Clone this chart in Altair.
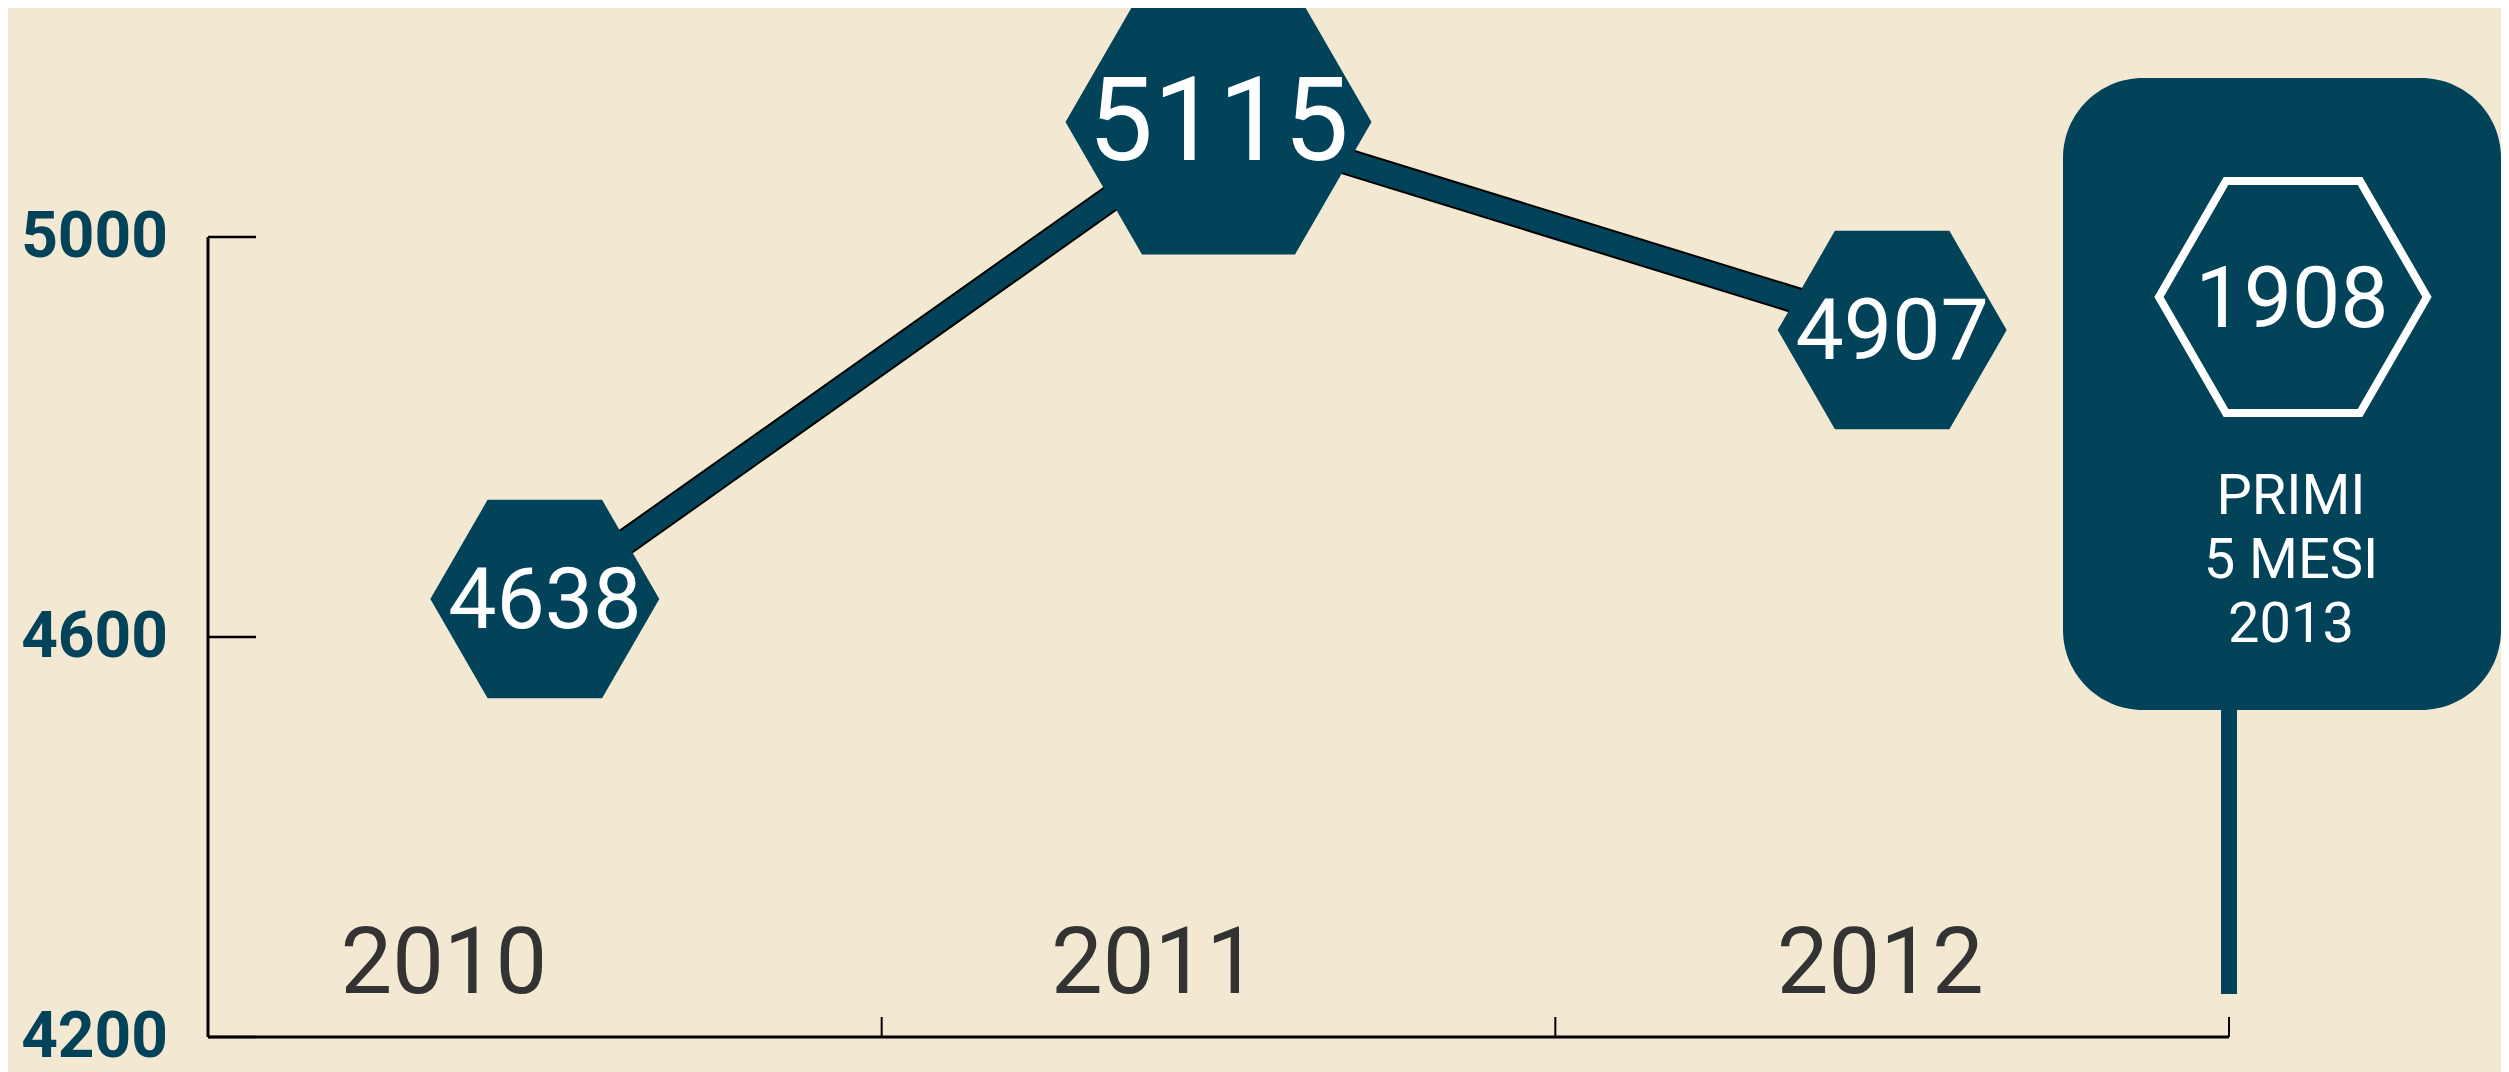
import altair as alt
import pandas as pd

# ---- data ----
years = ["2010", "2011", "2012"]
values = [4638, 5115, 4907]
y_ticks = [4200, 4600, 5000]
partial_year = "2013"
partial_value = 1908
partial_caption = ["PRIMI", "5 MESI", "2013"]

# ---- styles ----
TEAL = "#02435a"
BG = "#f3e9d3"
DARK = "#333333"
FONT = "Roboto"
HEX = "M-1,0L-0.5,-0.866L0.5,-0.866L1,0L0.5,0.866L-0.5,0.866Z"
W, H = 2021, 1029
year_dx = [-101, -64, -12]

n = len(years)
df = pd.DataFrame({"year": years, "value": values, "slot": [i + 0.5 for i in range(n)]})
df_ticks = pd.DataFrame({"v": y_ticks})
df_yaxis = pd.DataFrame({"lo": [min(y_ticks)], "hi": [max(y_ticks)]})
df_xaxis = pd.DataFrame({"x0": [0], "x1": [n], "y": [min(y_ticks)]})
df_xticks = pd.DataFrame({"b": [i + 1 for i in range(n)]})
df_part = pd.DataFrame({"year": [partial_year], "value": [partial_value],
                        "slot": [n], "caption": ["\n".join(partial_caption)]})

xs = alt.Scale(domain=[0, n], nice=False, zero=False)
ys = alt.Scale(domain=[4200, 5229], nice=False, zero=False)

# axes drawn as rules + text
y_line = alt.Chart(df_yaxis).mark_rule(color="black", strokeWidth=3).encode(
    x=alt.value(0), y=alt.Y("lo:Q", scale=ys, axis=None), y2="hi:Q")

y_tick = alt.Chart(df_ticks).mark_rule(color="black", strokeWidth=2.5).encode(
    x=alt.value(0), x2=alt.value(48), y=alt.Y("v:Q", scale=ys, axis=None))

y_lab = alt.Chart(df_ticks).mark_text(
    font=FONT, fontSize=64, fontWeight="bold", color=TEAL, align="right",
    baseline="middle", dy=1).encode(
    x=alt.value(-40), y=alt.Y("v:Q", scale=ys, axis=None), text=alt.Text("v:Q", format="d"))

x_line = alt.Chart(df_xaxis).mark_rule(color="black", strokeWidth=3).encode(
    x=alt.X("x0:Q", scale=xs, axis=None), x2="x1:Q", y=alt.Y("y:Q", scale=ys, axis=None))

x_tick = alt.Chart(df_xticks).mark_rule(color="black", strokeWidth=2).encode(
    x=alt.X("b:Q", scale=xs, axis=None), y=alt.value(H), y2=alt.value(H - 20))

# partial-year panel
stem = alt.Chart(df_part).mark_rule(color=TEAL, strokeWidth=16).encode(
    x=alt.X("slot:Q", scale=xs, axis=None), y=alt.value(986), y2=alt.value(700))

panel = alt.Chart(df_part).mark_rect(color=TEAL, cornerRadius=80).encode(
    x=alt.value(1855), x2=alt.value(2293), y=alt.value(70), y2=alt.value(702))

panel_hex = alt.Chart(df_part).mark_point(
    shape=HEX, filled=False, stroke="white", strokeWidth=8, opacity=1).encode(
    x=alt.value(2085), y=alt.value(289), size=alt.value(268 * 268))

panel_val = alt.Chart(df_part).mark_text(
    font=FONT, fontSize=86, color="white", baseline="middle", align="center").encode(
    x=alt.value(2084), y=alt.value(293), text="value:Q")

panel_cap = alt.Chart(df_part).mark_text(
    font=FONT, fontSize=56, color="white", baseline="middle", align="center",
    lineBreak="\n", lineHeight=64).encode(
    x=alt.value(2083), y=alt.value(489), text="caption:N")

# series line with a thin dark edge
line_edge = alt.Chart(df).mark_line(color="black", strokeWidth=27, strokeCap="butt").encode(
    x=alt.X("slot:Q", scale=xs, axis=None), y=alt.Y("value:Q", scale=ys, axis=None))
line_fill = alt.Chart(df).mark_line(color=TEAL, strokeWidth=23, strokeCap="butt").encode(
    x=alt.X("slot:Q", scale=xs, axis=None), y=alt.Y("value:Q", scale=ys, axis=None))

hexes = alt.Chart(df).mark_point(shape=HEX, filled=True, color=TEAL, opacity=1).encode(
    x=alt.X("slot:Q", scale=xs, axis=None), y=alt.Y("value:Q", scale=ys, axis=None),
    size=alt.condition(f"datum.value == {max(values)}", alt.value(306 * 306), alt.value(229 * 229)))

hex_text = alt.Chart(df).mark_text(font=FONT, color="white", baseline="middle", align="center", dy=3).encode(
    x=alt.X("slot:Q", scale=xs, axis=None), y=alt.Y("value:Q", scale=ys, axis=None),
    text="value:Q",
    size=alt.condition(f"datum.value == {max(values)}", alt.value(116), alt.value(86)))

year_layers = []
for i, yr in enumerate(years):
    year_layers.append(
        alt.Chart(df).transform_filter(f"datum.year == '{yr}'").mark_text(
            font=FONT, fontSize=92, color=DARK, baseline="middle", align="center", dx=year_dx[i]
        ).encode(x=alt.X("slot:Q", scale=xs, axis=None), y=alt.value(957), text="year:N"))

chart = alt.layer(
    y_line, y_tick, y_lab, x_line, x_tick, stem, panel, panel_hex, panel_val, panel_cap,
    line_edge, line_fill, hexes, hex_text, *year_layers
).properties(
    width=W, height=H,
    autosize=alt.AutoSizeParams(type="none"),
    padding={"left": 200, "top": 0, "right": 272, "bottom": 36},
    background=BG,
).configure_view(stroke=None)

chart.save("out.html", embed_options={"renderer": "svg", "actions": False})
